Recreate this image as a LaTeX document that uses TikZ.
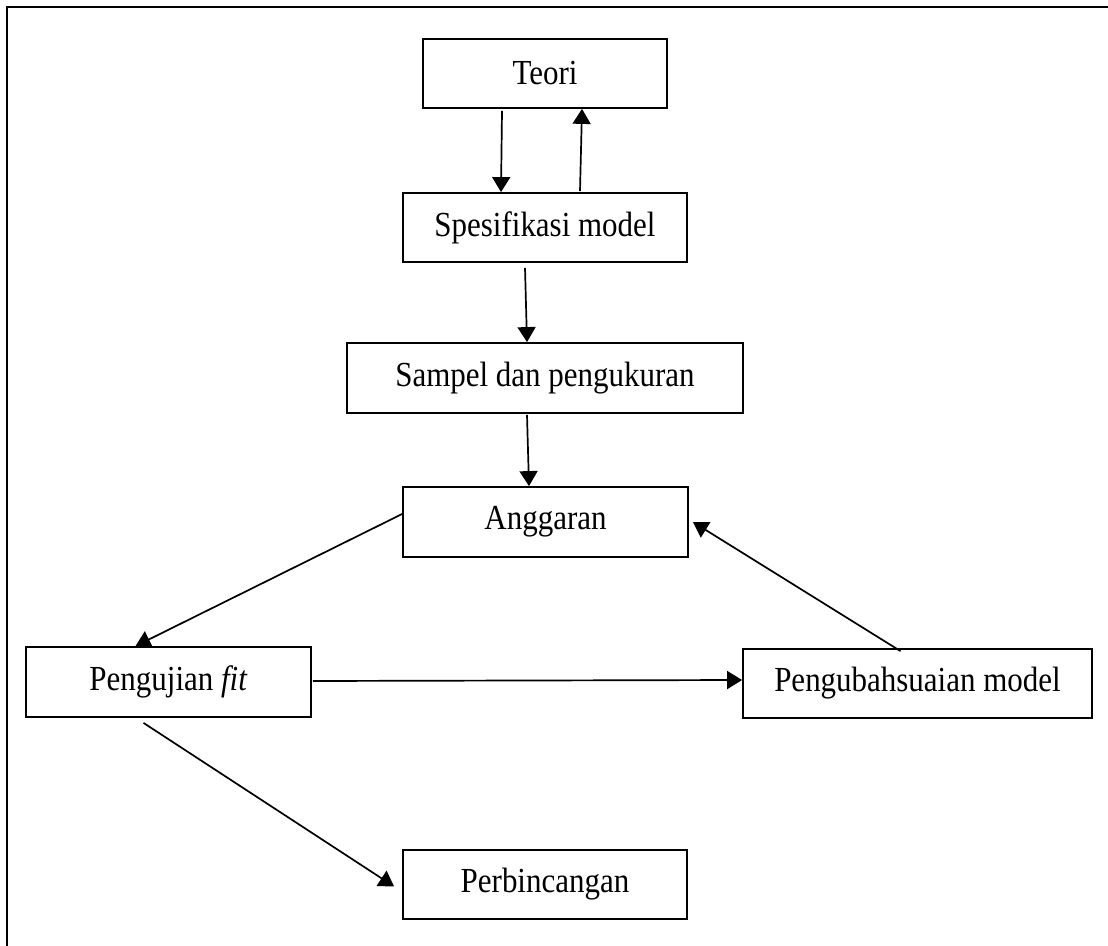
\documentclass[tikz,border=0pt]{standalone}
\usepackage{fontspec}
\setmainfont{Liberation Serif}[FakeStretch=0.88]
\usepackage{tikz}
\usetikzlibrary{arrows.meta,calc}
\tikzset{
    box/.style={draw, line width=0.9pt, rectangle, minimum height=34.5pt, inner sep=0pt, font=\fontsize{17.6}{20}\selectfont},
    link/.style={line width=0.85pt, -{Triangle[length=7.5pt,width=9pt]}},
}

\begin{document}
\begin{tikzpicture}[x=0.5pt, y=-0.5pt]
\useasboundingbox (0,0) rectangle (1108,946);
\draw[line width=0.9pt] (1108,7) -- (7,7) -- (7,946);

\node[box, minimum width=122pt] (teori) at (545,73.5) {Teori};
\node[box, minimum width=142pt] (spes) at (545,227.5) {Spesifikasi model};
\node[box, minimum width=198pt, minimum height=35pt] (sampel) at (545,378) {Sampel dan pengukuran};
\node[box, minimum width=142.5pt, minimum height=35pt] (anggaran) at (545.5,522) {Anggaran};
\node[box, minimum width=142.5pt, minimum height=35pt] (pengujian) at (168.5,682) {Pengujian \textit{fit}};
\node[box, minimum width=174.5pt] (pengubah) at (917.5,683.5) {Pengubahsuaian model};
\node[box, minimum width=142pt] (bincang) at (545,884.5) {Perbincangan};

\draw[link] ($(teori.south)+(-43,2)$) -- ($(spes.north)+(-44,0)$);
\draw[link] ($(spes.north)+(35,-1)$) -- ($(teori.south)+(37,0)$);
\draw[link] ($(spes.south)+(-20,5)$) -- ($(sampel.north)+(-18,0)$);
\draw[link] ($(sampel.south)+(-18,1)$) -- ($(anggaran.north)+(-16.5,0)$);
\draw[link] ($(anggaran.west)+(0,-8)$) -- ($(pengujian.north)+(-33,0)$);
\draw[link] ($(pengujian.east)+(1,-1)$) -- ($(pengubah.west)+(0,-3.5)$);
\draw[link] ($(pengubah.north)+(-17,3)$) -- ($(anggaran.east)+(4,0)$);
\draw[link] ($(pengujian.south)+(-25,5)$) -- ($(bincang.west)+(-8,2)$);
\end{tikzpicture}
\end{document}
